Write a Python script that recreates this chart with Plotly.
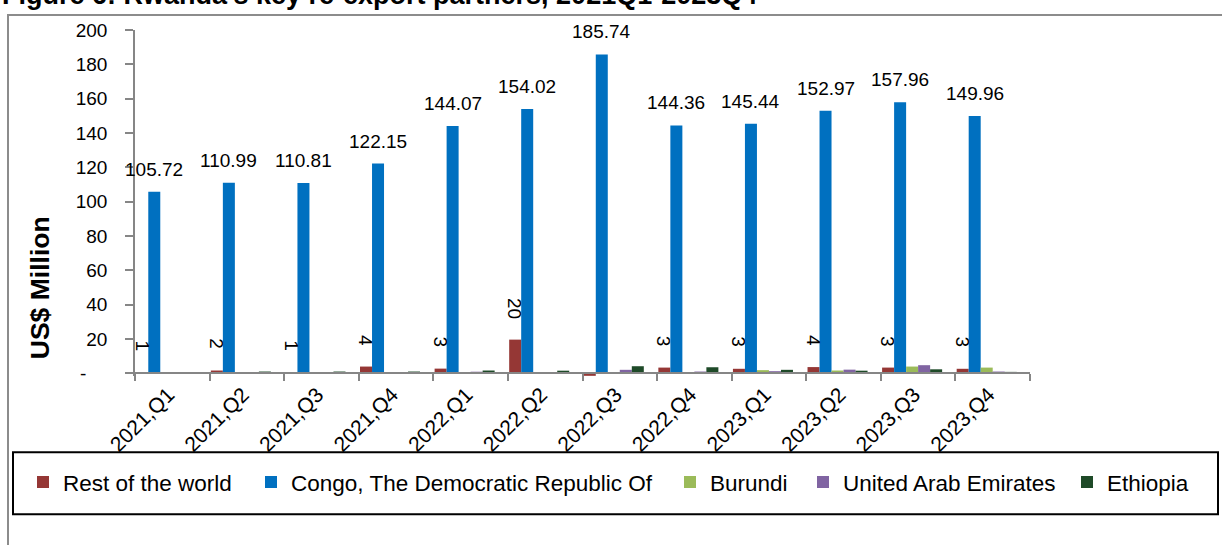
import plotly.graph_objects as go

# ---------------- data ----------------
quarters = ["2021,Q1", "2021,Q2", "2021,Q3", "2021,Q4",
            "2022,Q1", "2022,Q2", "2022,Q3", "2022,Q4",
            "2023,Q1", "2023,Q2", "2023,Q3", "2023,Q4"]
rest_of_world = [0.6, 1.6, 0.6, 3.9, 2.7, 19.6, -1.5, 3.3, 2.6, 3.6, 3.3, 2.6]
congo = [105.72, 110.99, 110.81, 122.15, 144.07, 154.02,
         185.74, 144.36, 145.44, 152.97, 157.96, 149.96]
burundi = [0, 0, 0, 0, 0, 0, 0, 0, 1.8, 1.6, 3.9, 3.3]
uae = [0.4, 0.2, 0.3, 0.4, 0.9, 0.3, 2.0, 1.0, 1.2, 2.1, 4.7, 1.0]
ethiopia = [0.6, 1.0, 1.0, 1.0, 1.6, 1.5, 4.1, 3.5, 2.0, 1.5, 2.3, 0.8]
series_names = ["Rest of the world", "Congo, The Democratic Republic Of",
                "Burundi", "United Arab Emirates", "Ethiopia"]
y_tick_values = [0, 20, 40, 60, 80, 100, 120, 140, 160, 180, 200]
y_tick_labels = ["-\u00a0\u00a0\u00a0\u00a0", "20", "40", "60", "80", "100",
                 "120", "140", "160", "180", "200"]
title_text = "Figure 6: Rwanda's key re-export partners, 2021Q1-2023Q4"
y_title = "US$ Million"

# ---------------- style ----------------
W, H = 1222, 545
L, R, T, B0 = 135, 1030, 30, 373          # plot area pixels (B0 = value 0)
YMIN, YMAX = -1.6, 200
B = B0 + (0 - YMIN) * (B0 - T) / YMAX     # bottom pixel of plot area
FONT = "Liberation Sans, Arial, sans-serif"
colors = ["#953735", "#0070C0", "#9BBB59", "#8064A2", "#1E4A28"]
bar_w = 0.161
first_off = -0.5 + 0.017


def pxx(p):
    return (p - L) / (R - L)


def pxy(p):
    return (B - p) / (B - T)


fig = go.Figure()
all_series = [rest_of_world, congo, burundi, uae, ethiopia]
legend_ids = ["legend", "legend2", "legend3", "legend4", "legend5"]
for k, (name, vals) in enumerate(zip(series_names, all_series)):
    fig.add_trace(go.Bar(
        x=quarters, y=vals, name=name,
        marker=dict(color=colors[k], line=dict(width=0)),
        width=bar_w, offset=first_off + k * bar_w,
        legend=legend_ids[k],
        hovertemplate="%{x}<br>" + name + ": %{y}<extra></extra>",
    ))

annotations = []
# blue data labels
for i, v in enumerate(congo):
    annotations.append(dict(
        x=i + first_off + 1.5 * bar_w, y=v, xref="x", yref="y",
        text=f"{v:.2f}", showarrow=False, yanchor="bottom", yshift=10,
        font=dict(family=FONT, size=19, color="black")))
# red data labels (rotated)
for i, v in enumerate(rest_of_world):
    if v > 0:
        annotations.append(dict(
            x=i + first_off + 0.5 * bar_w, y=v, xref="x", yref="y",
            text=str(int(v + 0.5)), showarrow=False, yanchor="bottom",
            yshift=19, textangle=90,
            font=dict(family=FONT, size=19, color="black")))

# title (partly cut at the top, as in the source image)
annotations.append(dict(
    x=pxx(0), y=pxy(12), xref="paper", yref="paper", xanchor="left",
    yanchor="bottom", text="<b>" + title_text + "</b>", showarrow=False,
    font=dict(family=FONT, size=27, color="black")))
# y axis title
annotations.append(dict(
    x=pxx(40), y=pxy(288), xref="paper", yref="paper", xanchor="center",
    yanchor="middle", text="<b>" + y_title + "</b>", textangle=-90,
    showarrow=False, font=dict(family=FONT, size=26.5, color="black")))

shapes = [
    dict(type="rect", xref="paper", yref="paper",
         x0=pxx(8), x1=pxx(1227), y0=pxy(15), y1=pxy(552),
         line=dict(color="#8C8C8C", width=2), layer="below"),
    dict(type="rect", xref="paper", yref="paper",
         x0=pxx(13), x1=pxx(1218), y0=pxy(452), y1=pxy(514),
         line=dict(color="black", width=2)),
]

legend_text_starts = [61, 289, 708, 841, 1105]
legend_common = dict(orientation="h", yanchor="middle", xanchor="left",
                     bgcolor="rgba(0,0,0,0)", borderwidth=0,
                     font=dict(family=FONT, size=22.5, color="black"))
layout_legends = {}
for lid, xs in zip(legend_ids, legend_text_starts):
    layout_legends[lid] = dict(legend_common, x=pxx(xs - 38), y=pxy(482))

fig.update_layout(
    width=W, height=H,
    margin=dict(l=L, r=W - R, t=T, b=H - B, pad=0),
    paper_bgcolor="white", plot_bgcolor="white",
    font=dict(family=FONT, size=19, color="black"),
    barmode="group",
    showlegend=True,
    annotations=annotations,
    shapes=shapes,
    xaxis=dict(
        type="category", range=[-0.5, 11.5], anchor="free",
        position=(0 - YMIN) / (YMAX - YMIN),
        showline=True, linecolor="#868686", linewidth=1.5,
        ticks="outside", tickson="boundaries", ticklen=7,
        tickcolor="#868686", tickwidth=1.5,
        tickangle=-45, ticklabelshift=-4,
        tickfont=dict(family=FONT, size=21, color="black"),
        showgrid=False, zeroline=False, fixedrange=True,
    ),
    yaxis=dict(
        range=[YMIN, YMAX], tickvals=y_tick_values, ticktext=y_tick_labels,
        showline=True, linecolor="#868686", linewidth=1.5,
        ticks="outside", ticklen=8, tickcolor="#868686", tickwidth=1.5,
        ticklabelstandoff=14,
        tickfont=dict(family=FONT, size=19, color="black"),
        showgrid=False, zeroline=False, fixedrange=True,
    ),
    **layout_legends,
)

fig.write_html("out.html", config={"displayModeBar": False},
               post_script="document.body.style.margin='0';")
